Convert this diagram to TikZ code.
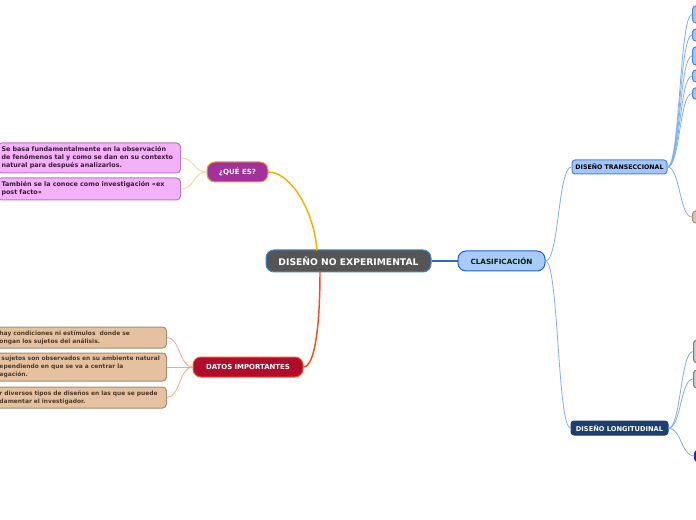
\documentclass[tikz,border=0pt]{standalone}
\usepackage{fontspec}
\setmainfont{DejaVu Sans}
\definecolor{cgray}{HTML}{555555}
\definecolor{cblue}{HTML}{3A8AD0}
\definecolor{clasfill}{HTML}{A9CBFA}
\definecolor{clasdraw}{HTML}{2060D0}
\definecolor{qfill}{HTML}{A3319B}
\definecolor{qdraw}{HTML}{F0A030}
\definecolor{dfill}{HTML}{B10D2B}
\definecolor{ddraw}{HTML}{F05A28}
\definecolor{pinkfill}{HTML}{F4B0F8}
\definecolor{pinkdraw}{HTML}{B27CC0}
\definecolor{pinktext}{HTML}{3A1A3A}
\definecolor{tanfill}{HTML}{E6C1A0}
\definecolor{tandraw}{HTML}{A48C74}
\definecolor{tantext}{HTML}{4A3A2A}
\definecolor{tfill}{HTML}{A3C6FA}
\definecolor{tdraw}{HTML}{4D86DC}
\definecolor{lfill}{HTML}{1C3F6E}
\definecolor{grayfill}{HTML}{CFCFCF}
\definecolor{graydraw}{HTML}{7A7A7A}
\definecolor{darkfill}{HTML}{2A1FC0}
\definecolor{lineblue}{HTML}{2A6AD0}
\definecolor{lightblue}{HTML}{80AEF0}
\definecolor{orangeline}{HTML}{F5B000}
\definecolor{redline}{HTML}{F05020}
\definecolor{lightorange}{HTML}{F8D48A}
\definecolor{salmon}{HTML}{F8A888}
\begin{document}
\begin{tikzpicture}[x=0.75pt,y=-0.75pt,
  bx/.style={inner sep=0pt, line width=0.75pt, font=\bfseries},
  central/.style={bx, rounded corners=6pt, fill=cgray, draw=cblue, text=white,
    minimum width=123.75pt, minimum height=16.5pt, font=\bfseries\fontsize{6.9}{8}\selectfont},
  clas/.style={bx, rounded corners=6pt, fill=clasfill, draw=clasdraw, text=black!85!green,
    minimum width=65.25pt, minimum height=15pt, font=\bfseries\fontsize{5.4}{6}\selectfont},
  qbox/.style={bx, rounded corners=6pt, fill=qfill, draw=qdraw, text=white,
    minimum width=45.75pt, minimum height=15pt, font=\bfseries\fontsize{5.3}{6}\selectfont},
  dbox/.style={bx, rounded corners=6pt, fill=dfill, draw=ddraw, text=white,
    minimum width=82.5pt, minimum height=15pt, font=\bfseries\fontsize{5.2}{6}\selectfont},
  pinkbox/.style={bx, rounded corners=3pt, fill=pinkfill, draw=pinkdraw, text=pinktext,
    inner xsep=3pt, text width=131.25pt, align=left, anchor=east,
    font=\bfseries\fontsize{4.8}{6}\selectfont},
  tanbox/.style={bx, rounded corners=3pt, fill=tanfill, draw=tandraw, text=tantext,
    inner xsep=3pt, text width=122.25pt, align=left, anchor=east,
    font=\bfseries\fontsize{4.45}{6}\selectfont},
  tbox/.style={bx, rounded corners=2.25pt, fill=tfill, draw=tdraw, text=black,
    minimum width=71.25pt, minimum height=10.5pt, font=\bfseries\fontsize{4.7}{5}\selectfont},
  lbox/.style={bx, rounded corners=2.25pt, fill=lfill, draw=lfill, text=white,
    minimum width=72.75pt, minimum height=10.5pt, font=\bfseries\fontsize{5}{5}\selectfont},
  child/.style={bx, rounded corners=2.5pt, anchor=west, minimum width=22.5pt},
  bluechild/.style={child, fill=tfill, draw=tdraw},
  tanchild/.style={child, fill=tanfill, draw=tandraw},
  graychild/.style={child, fill=grayfill, draw=graydraw},
  darkchild/.style={child, fill=darkfill, draw=darkfill},
  mainline/.style={line width=1.1pt},
  subline/.style={line width=0.6pt}
]
\useasboundingbox (0,0) rectangle (696,520);
\clip (0,0) rectangle (696,520);

% nodes
\node[central] (c) at (348.5,261) {DISEÑO NO EXPERIMENTAL};
\node[clas] (cl) at (501.5,261) {CLASIFICACIÓN};
\node[qbox] (q) at (237.5,172) {¿QUÉ ES?};
\node[dbox] (d) at (248,367) {DATOS IMPORTANTES};

\node[pinkbox, minimum height=22.5pt] (p1) at (181,158) {Se basa fundamentalmente en la observación\\de fenómenos tal y como se dan en su contexto\\natural para después analizarlos.};
\node[pinkbox, minimum height=16.5pt] (p2) at (181,189) {También se la conoce como investigación «ex\\post facto»};

\node[tanbox, minimum height=15.75pt] (t1) at (167,337.5) {hay condiciones ni estímulos \ donde se\\ongan los sujetos del análisis.};
\node[tanbox, minimum height=21pt] (t2) at (167,367) {\hspace*{1.5pt}sujetos son observados en su ambiente natural\\ependiendo en que se va a centrar la\\agación.};
\node[tanbox, minimum height=15.75pt] (t3) at (167,397.5) {r diversos tipos de diseños en las que se puede\\damentar el investigador.};

\node[tbox] (tr) at (619.5,167) {DISEÑO TRANSECCIONAL};
\node[lbox] (lo) at (619.5,428) {DISEÑO LONGITUDINAL};

\node[bluechild, minimum height=12.75pt] (tc1) at (692,14.5) {};
\node[bluechild, minimum height=9pt] (tc2) at (692,35) {};
\node[bluechild, minimum height=13.5pt] (tc3) at (692,56) {};
\node[bluechild, minimum height=9pt] (tc4) at (692,76) {};
\node[bluechild, minimum height=8.5pt] (tc5) at (692,93.5) {};
\node[tanchild, minimum height=9pt] (tc6) at (692,217) {};

\node[graychild, minimum height=17pt] (lc1) at (693,351.5) {};
\node[graychild, minimum height=13.5pt] (lc2) at (693,379) {};
\node[darkchild, minimum height=8.5pt] (lc3) at (694,456) {};

\coordinate (ctop) at (317,250.5);
\coordinate (cbot) at (320,271.5);

% main connectors
\draw[mainline, lineblue] (c.east) -- (cl.west);
\draw[mainline, orangeline] (q.east) .. controls +(22,0) and +(-3,-40) .. (ctop);
\draw[mainline, redline] (d.east) .. controls +(12,0) and +(0,50) .. (cbot);

% clasificacion branches
\draw[subline, lightblue] (cl.east) .. controls +(13.5,0) and +(-13.5,0) .. (tr.west);
\draw[subline, lightblue] (cl.east) .. controls +(13,0) and +(-13,0) .. (lo.west);

% que es branches
\draw[subline, lightorange] (q.west) .. controls +(-13,0) and +(13,0) .. (p1.east);
\draw[subline, lightorange] (q.west) .. controls +(-13,0) and +(13,0) .. (p2.east);

% datos branches
\draw[subline, salmon] (d.west) .. controls +(-13,0) and +(13,0) .. (t1.east);
\draw[subline, salmon] (d.west) .. controls +(-13,0) and +(13,0) .. (t2.east);
\draw[subline, salmon] (d.west) .. controls +(-13,0) and +(13,0) .. (t3.east);

% transeccional branches
\foreach \n in {tc1,tc2,tc3,tc4,tc5,tc6}
  \draw[subline, lightblue] (tr.east) .. controls +(12.5,0) and +(-12.5,0) .. (\n.west);

% longitudinal branches
\foreach \n in {lc1,lc2,lc3}
  \draw[subline, lightblue] (lo.east) .. controls +(12.5,0) and +(-12.5,0) .. (\n.west);
\end{tikzpicture}
\end{document}
